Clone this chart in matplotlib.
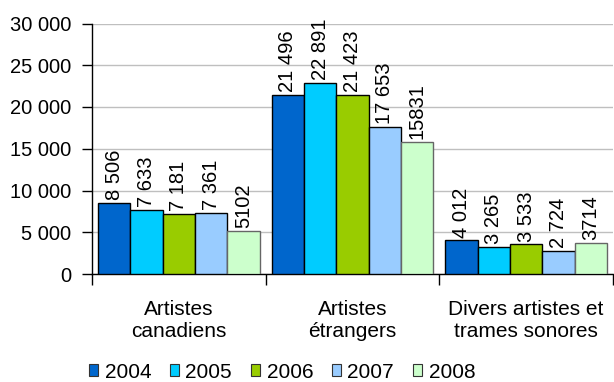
import matplotlib.pyplot as plt
import numpy as np

plt.rcParams['font.family'] = ['Liberation Sans', 'DejaVu Sans']

categories = ['Artistes\ncanadiens', 'Artistes\nétrangers', 'Divers artistes et\ntrames sonores']
years = ['2004', '2005', '2006', '2007', '2008']
values = {
    '2004': [8506, 21496, 4012],
    '2005': [7633, 22891, 3265],
    '2006': [7181, 21423, 3533],
    '2007': [7361, 17653, 2724],
    '2008': [5102, 15831, 3714],
}
colors = ['#0066CC', '#00CCFF', '#99CC00', '#99CCFF', '#CCFFCC']
edges = ['#000000', '#000000', '#000000', '#000000', '#666666']
yticks = [0, 5000, 10000, 15000, 20000, 25000, 30000]

fs = 14.5


def fmt(v, sep=' '):
    return f'{v:,}'.replace(',', sep)


fig = plt.figure(figsize=(6.14, 3.82), dpi=100)
ax = fig.add_axes([92 / 614, 1 - 274 / 382, 521 / 614, 250.5 / 382])

x = np.arange(len(categories))
width = 0.186
for i, yr in enumerate(years):
    pos = x - 2 * width + i * width
    bars = ax.bar(pos, values[yr], width, color=colors[i], edgecolor=edges[i],
                  linewidth=1, zorder=3)
    for b, v in zip(bars, values[yr]):
        label = fmt(v, '') if yr == '2008' else fmt(v)
        ax.text(b.get_x() + b.get_width() / 2, v + 350, label, rotation=90,
                ha='center', va='bottom', fontsize=fs)

ax.set_xlim(-0.5, 2.5)
ax.set_ylim(0, 30000)
ax.set_yticks(yticks)
ax.set_yticklabels([fmt(t) for t in yticks], fontsize=fs)
ax.yaxis.grid(True, color='#BFBFBF', linewidth=1, zorder=0)
ax.tick_params(axis='y', length=7, width=1, pad=8)

# category boundaries as major ticks, names as minor tick labels
ax.set_xticks([-0.5, 0.5, 1.5, 2.5])
ax.set_xticklabels([])
ax.tick_params(axis='x', which='major', length=8, width=1)
ax.set_xticks(x, minor=True)
ax.set_xticklabels(categories, minor=True, fontsize=15, linespacing=1.2)
ax.tick_params(axis='x', which='minor', length=0, pad=19)

for s in ['top', 'right']:
    ax.spines[s].set_visible(False)
ax.spines['left'].set_linewidth(1)
ax.spines['bottom'].set_linewidth(1)

handles = [plt.Rectangle((0, 0), 1, 1, facecolor=colors[i], edgecolor='#333333', linewidth=0.8)
           for i in range(len(years))]
fig.legend(handles, years, loc='center', bbox_to_anchor=(282 / 614, 1 - 372 / 382),
           ncol=5, frameon=False, fontsize=15, handlelength=0.45, handleheight=0.45,
           handletextpad=0.3, columnspacing=0.9, borderaxespad=0, borderpad=0)

fig.savefig('out.png', dpi=100)
